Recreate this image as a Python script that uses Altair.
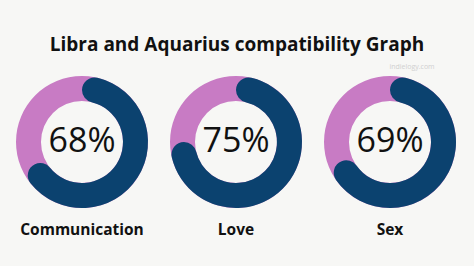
import altair as alt
import pandas as pd

categories = ["Communication", "Love", "Sex"]
values = [68, 75, 69]
labels = ["68%", "75%", "69%"]

df = pd.DataFrame({
    "category": categories,
    "value": values,
    "label": labels,
})

BG = "#f7f7f5"
PINK = "#c87bc4"
BLUE = "#0b426f"

xscale = alt.Scale(type="point", domain=categories, range=[82, 390], padding=0)
ring_y = alt.value(80)
X = alt.X("category:N", scale=xscale, axis=None)

base = alt.Chart(df).transform_calculate(
    start="0",
    full="2 * PI",
    rad="datum.value / 100 * 2 * PI",
)

ring = base.mark_arc(innerRadius=41, outerRadius=66, color=PINK).encode(
    x=X,
    y=ring_y,
    theta=alt.Theta("start:Q", scale=None),
    theta2=alt.Theta2("full:Q"),
)

arc = base.mark_arc(innerRadius=41, outerRadius=66, color=BLUE, cornerRadius=12.5).encode(
    x=X,
    y=ring_y,
    theta=alt.Theta("start:Q", scale=None),
    theta2=alt.Theta2("rad:Q"),
)

pct = base.mark_text(font="Open Sans", fontSize=34, color="#111111", baseline="middle").encode(
    x=X,
    y=ring_y,
    text="label:N",
)

names = base.mark_text(font="Open Sans", fontSize=15.5, fontWeight="bold", color="#111111",
                       baseline="middle").encode(
    x=X,
    y=alt.value(168),
    text="category:N",
)

wm = alt.Chart(pd.DataFrame({"t": ["indielogy.com"]})).mark_text(
    font="Open Sans", fontSize=7, color="#d0d0d0", align="center", baseline="middle"
).encode(x=alt.value(412), y=alt.value(5), text="t:N")

chart = alt.layer(ring, arc, pct, names, wm).properties(
    width=474,
    height=204,
    background=BG,
    padding={"top": 62, "left": 0, "right": 0, "bottom": 0},
    autosize=alt.AutoSizeParams(type="none"),
    title=alt.TitleParams(
        "Libra and Aquarius compatibility Graph",
        font="Open Sans",
        fontSize=19,
        fontWeight="bold",
        color="#111111",
        anchor="middle",
        offset=7,
    ),
).configure_view(stroke=None)

chart.save("out.html", embed_options={"renderer": "svg", "actions": False})
